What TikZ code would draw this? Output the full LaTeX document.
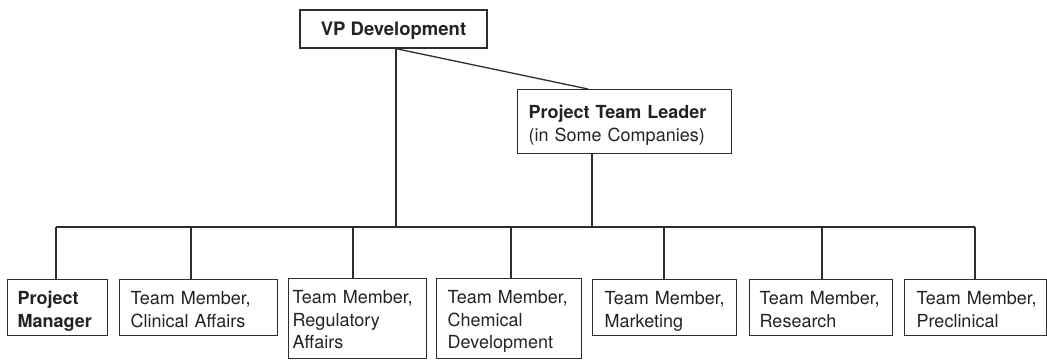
\documentclass[tikz,border=0pt]{standalone}
\usepackage{fontspec}
\setmainfont{TeX Gyre Heros}
\definecolor{linec}{RGB}{45,45,45}
\definecolor{textc}{RGB}{35,35,35}
\newcommand\tl[1]{\rule{0pt}{#1pt}}
\newcommand\bl[1]{\rule[-#1pt]{0pt}{#1pt}}
\hyphenpenalty=10000
\exhyphenpenalty=10000
\tikzset{
  conn/.style={draw=linec, line width=1.3pt},
  box/.style={draw=linec, line width=1.3pt, anchor=north west, inner ysep=0pt,
    align=left, text=textc, font=\fontsize{18}{22.5}\selectfont},
  topbox/.style={draw=linec, line width=1.3pt, inner sep=0pt, text depth=0pt,
    text=textc, font=\fontsize{18.5}{22.5}\selectfont\bfseries}
}
\begin{document}
\begin{tikzpicture}[x=1pt,y=-1pt]
\useasboundingbox (0,0) rectangle (1047,359);

% top
\node[topbox, minimum width=187pt, minimum height=38pt] (vp) at (393.5,29) {VP Development};
\node[box, inner xsep=11pt, text width=192pt] (ptl) at (517,89)
  {\tl{29}\textbf{\mbox{Project Team Leader}}\\\mbox{(in Some Companies)}\bl{12}};

% bottom boxes
\node[box, inner xsep=10pt, text width=80pt] (pm) at (7,279)
  {\tl{25}\textbf{Project}\\\textbf{Manager}\bl{8}};
\node[box, inner xsep=11pt, text width=136pt] (ca) at (119,279)
  {\tl{25}\mbox{Team Member,}\\\mbox{Clinical Affairs}\bl{8}};
\node[box, inner xsep=4pt, text width=130pt] (ra) at (288,278)
  {\tl{25}\mbox{Team Member,}\\Regulatory\\Affairs\bl{9.5}};
\node[box, inner xsep=11pt, text width=123pt] (cd) at (436,278)
  {\tl{25}\mbox{Team Member,}\\Chemical\\Development\bl{9.5}};
\node[box, inner xsep=12pt, text width=120pt] (mk) at (592,279)
  {\tl{25}\mbox{Team Member,}\\Marketing\bl{8}};
\node[box, inner xsep=10pt, text width=123pt] (rs) at (749,279)
  {\tl{25}\mbox{Team Member,}\\Research\bl{8}};
\node[box, inner xsep=12pt, text width=118pt] (pc) at (904,279)
  {\tl{25}\mbox{Team Member,}\\Preclinical\bl{8}};

% bus coordinates
\coordinate (vpfoot) at (396,227);
\coordinate (ptlfoot) at (592,227);
\coordinate (b1) at (56,227);
\coordinate (b2) at (191,227);
\coordinate (b3) at (353,227);
\coordinate (b4) at (511,227);
\coordinate (b5) at (664,227);
\coordinate (b6) at (822,227);
\coordinate (b7) at (975,227);

% connectors
\draw[conn] (vp.south -| vpfoot) -- (vpfoot);
\draw[conn] (vp.south -| vpfoot) -- ([xshift=71pt]ptl.north west);
\draw[conn] (ptl.south -| ptlfoot) -- (ptlfoot);
\draw[conn] (b1) -- (b7);
\draw[conn] (b1) -- (b1 |- pm.north);
\draw[conn] (b2) -- (b2 |- ca.north);
\draw[conn] (b3) -- (b3 |- ra.north);
\draw[conn] (b4) -- (b4 |- cd.north);
\draw[conn] (b5) -- (b5 |- mk.north);
\draw[conn] (b6) -- (b6 |- rs.north);
\draw[conn] (b7) -- (b7 |- pc.north);
\end{tikzpicture}
\end{document}
